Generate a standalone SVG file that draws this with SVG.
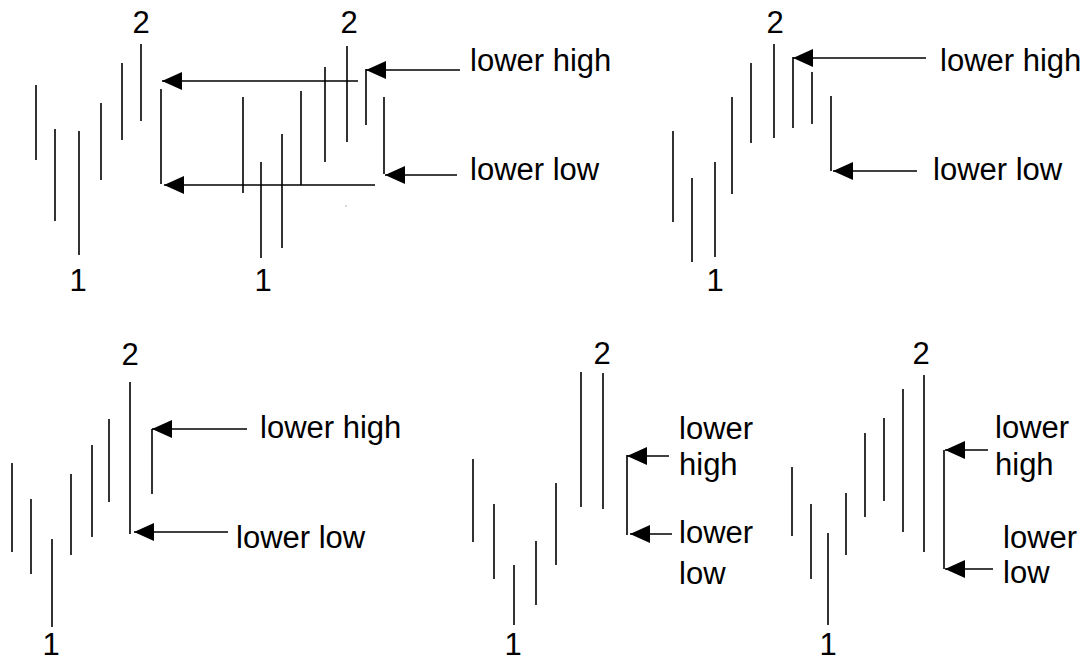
<svg xmlns="http://www.w3.org/2000/svg" width="1089" height="660" viewBox="0 0 1089 660">
<style>
.bar{stroke:#000;stroke-width:1.6;fill:none}
.arr{stroke:#000;stroke-width:1.6;fill:none;marker-end:url(#ah)}
.lbl{font-family:"Liberation Sans",Arial,sans-serif;font-size:31px;fill:#000}
.num{font-family:"Liberation Sans",Arial,sans-serif;font-size:31px;fill:#000;text-anchor:middle}
</style>
<defs>
<marker id="ah" markerUnits="userSpaceOnUse" markerWidth="22" markerHeight="22" viewBox="0 -11 22 22" refX="20" refY="0" orient="auto">
<path d="M0,-9 L20,0 L0,9 Z" fill="#000"/>
</marker>
</defs>
<rect width="1089" height="660" fill="#fff"/>

<g id="panel1">
<path class="bar" d="M36,85V160 M55,129V221 M79,131V255 M101,103V180 M122,63V140 M141,44V121 M161,89V184 M243,97V193 M261,162V258 M282,134V248 M301,91V185 M325,67V162 M347,46V142 M366,69V125 M384,97V174"/>
<text class="num" x="141" y="33">2</text>
<text class="num" x="349" y="33">2</text>
<text class="num" x="78" y="291">1</text>
<text class="num" x="263" y="291">1</text>
<text class="lbl" x="470" y="71">lower high</text>
<text class="lbl" x="470" y="180">lower low</text>
<rect x="345.5" y="205.5" width="1" height="1" fill="#666"/>
</g>

<g id="panel2">
<path class="bar" d="M673,131V222 M692,178V262 M715,162V257 M732,97V194 M751,63V143 M774,44V138 M793,57V128 M812,72V124 M831,96V171"/>
<text class="num" x="775" y="33">2</text>
<text class="num" x="715" y="291">1</text>
<text class="lbl" x="940" y="71">lower high</text>
<text class="lbl" x="933" y="180">lower low</text>
</g>

<g id="panel3">
<path class="bar" d="M12,463V552 M31,499V574 M52,539V627 M71,474V555 M92,445V537 M109,419V502 M130,382V534 M152,429V494"/>
<text class="num" x="130" y="365">2</text>
<text class="num" x="51" y="655">1</text>
<text class="lbl" x="260" y="438">lower high</text>
<text class="lbl" x="236" y="548">lower low</text>
</g>

<g id="panel4">
<path class="bar" d="M473,459V542 M494,504V579 M514,565V625 M536,541V605 M556,483V565 M581,372V507 M603,373V509 M627,455V535"/>
<text class="num" x="602" y="364">2</text>
<text class="num" x="513" y="655">1</text>
<text class="lbl" x="679" y="439">lower</text>
<text class="lbl" x="679" y="475">high</text>
<text class="lbl" x="679" y="543">lower</text>
<text class="lbl" x="679" y="584">low</text>
</g>

<g id="panel5">
<path class="bar" d="M792,467V536 M811,504V579 M828,533V625 M846,493V555 M865,433V517 M884,418V501 M903,389V532 M924,375V552 M944,450V569"/>
<text class="num" x="921" y="364">2</text>
<text class="num" x="828" y="655">1</text>
<text class="lbl" x="995" y="438">lower</text>
<text class="lbl" x="995" y="475">high</text>
<text class="lbl" x="1003" y="548">lower</text>
<text class="lbl" x="1003" y="583">low</text>
</g>

<g id="connectors">
<line class="arr" x1="358" y1="81" x2="162" y2="81"/>
<line class="arr" x1="375" y1="185" x2="164" y2="185"/>
<line class="arr" x1="460" y1="70" x2="366" y2="70"/>
<line class="arr" x1="457" y1="175" x2="385" y2="175"/>
<line class="arr" x1="926" y1="58" x2="793" y2="58"/>
<line class="arr" x1="917" y1="171" x2="833" y2="171"/>
<line class="arr" x1="247" y1="429" x2="152" y2="429"/>
<line class="arr" x1="228" y1="532" x2="134" y2="532"/>
<line class="arr" x1="669" y1="456" x2="627" y2="456"/>
<line class="arr" x1="672" y1="534" x2="630" y2="534"/>
<line class="arr" x1="988" y1="450" x2="945" y2="450"/>
<line class="arr" x1="993" y1="569" x2="945" y2="569"/>
</g>
</svg>
